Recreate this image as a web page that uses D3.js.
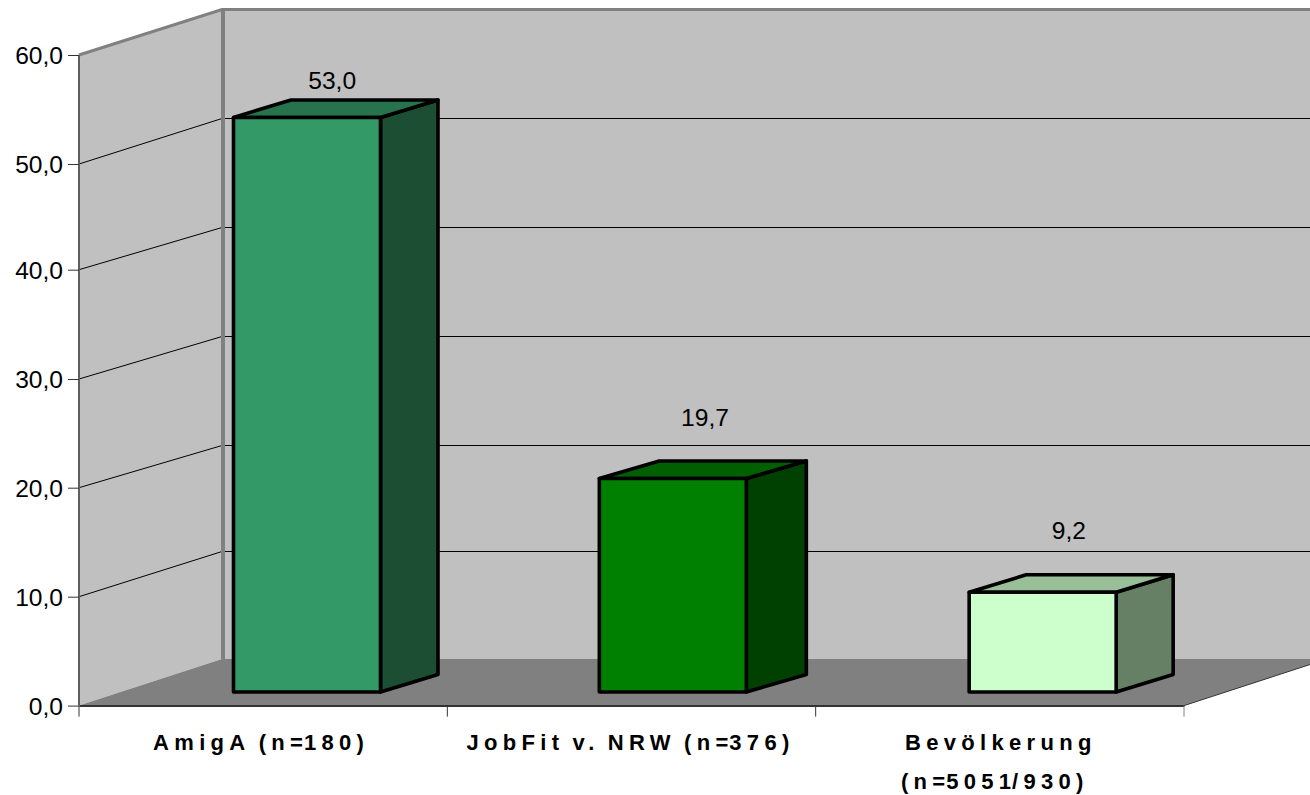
<!DOCTYPE html>
<html lang="de">
<head>
<meta charset="utf-8">
<title>AmigA, JobFit und Bevölkerung</title>
<script src="https://cdn.jsdelivr.net/npm/d3@7/dist/d3.min.js"></script>
<style>
  html, body { margin: 0; padding: 0; background: #fff; overflow: hidden; }
  svg { display: block; }
  text { font-family: "Liberation Sans", Arial, sans-serif; fill: #000; }
</style>
</head>
<body>
<svg id="chart" width="1310" height="795"></svg>
<script>
// Series
const categories = ["AmigA (n=180)", "JobFit v. NRW (n=376)", "Bevölkerung|(n=5051/930)"];
const values = [53.0, 19.7, 9.2];
const tickValues = [0, 10, 20, 30, 40, 50, 60];

// Bar face colours: front, side, top
const frontColours = ["#339966", "#008000", "#ccffcc"];
const sideColours = ["#1c4e33", "#004000", "#668066"];
const topColours = ["#26734d", "#006000", "#99bf99"];

// Layout of the 3D box
const width = 1310, height = 795;
const left = 79, right = 1184;
const depthX = 143;
const floorFrontY = 705.6, floorBackY = 659;
const wallTopY = 9.5;
const barBaseY = 692, barWidth = 147;
const barInset = [154.5, 152, 153.5];
const barDepths = [57.5, 60, 57];
const barDepthY = 17.5;
const valueLabelLift = [11, 35, 36];
const valueLabelShift = [69, 73.5, 69];
const categoryShift = [[-2], [-1], [1, -5]];

const svg = d3.select("#chart");
const decimal = d3.formatLocale({ decimal: ",", thousands: ".", grouping: [3], currency: ["", " €"] }).format(".1f");

// Axis ticks on the front edge and gridline ends on the back wall sit on device pixels
const yFront = d3.scaleLinear().domain(tickValues).range([705.6, 596.7, 487.7, 379, 269.7, 164, 55]);
const yBack = d3.scaleLinear().domain(tickValues).range([659, 551.5, 445.5, 336.5, 227.5, 118.5, 9.5]);
const yBar = d3.scaleLinear().domain([0, 60]).range([0, 650.4]);
const x = d3.scaleBand().domain(categories).range([left, right]);

const poly = pts => "M" + pts.map(p => p.join(",")).join("L") + "Z";

// Walls and floor
svg.append("path").attr("fill", "#c0c0c0")
  .attr("d", poly([[left + depthX, wallTopY], [width, wallTopY], [width, floorBackY], [left + depthX, floorBackY]]));
svg.append("path").attr("fill", "#c0c0c0")
  .attr("d", poly([[left, yFront(60)], [left + depthX, wallTopY], [left + depthX, floorBackY], [left, floorFrontY]]));
svg.append("path").attr("fill", "#808080")
  .attr("d", poly([[left, floorFrontY], [left + depthX, floorBackY], [right + depthX, floorBackY], [right, floorFrontY]]));

// Gridlines across the side wall and the back wall
const grid = svg.append("g").attr("stroke", "#000").attr("stroke-width", 1).attr("fill", "none");
tickValues.filter(v => v > 0 && v < 60).forEach(v => {
  grid.append("path").attr("d", `M${left},${yFront(v)}L${left + depthX},${yBack(v)}L${width},${yBack(v)}`);
});

// Wall outlines
svg.append("path").attr("fill", "none").attr("stroke", "#808080").attr("stroke-width", 3)
  .attr("d", `M${left},${yFront(60)}L${left + depthX},${wallTopY}L${width},${wallTopY}`);
svg.append("line").attr("stroke", "#808080").attr("stroke-width", 4)
  .attr("x1", left + depthX + 1).attr("x2", left + depthX + 1).attr("y1", wallTopY).attr("y2", floorBackY);
svg.append("line").attr("stroke", "#5f5f5f").attr("stroke-width", 2)
  .attr("x1", left).attr("x2", left).attr("y1", yFront(60)).attr("y2", floorFrontY);
svg.append("line").attr("stroke", "#333").attr("stroke-width", 1)
  .attr("x1", right).attr("x2", right + depthX).attr("y1", floorFrontY).attr("y2", floorBackY);

// Y axis
const yAxis = svg.append("g").attr("transform", `translate(${left},1)`)
  .call(d3.axisLeft(yFront).tickValues(tickValues).tickFormat(decimal).tickSize(11).tickPadding(5));
yAxis.select(".domain").remove();
yAxis.selectAll("line").attr("stroke", "#333").attr("transform", "translate(0,-1)");
yAxis.selectAll("text").attr("font-size", 24.6).attr("font-family", "Liberation Sans");

// X axis
const xAxis = svg.append("g").attr("transform", `translate(0,${floorFrontY})`)
  .call(d3.axisBottom(x).tickValues([]).tickSizeOuter(0));
xAxis.select(".domain").attr("stroke", "#333").attr("stroke-width", 2);
const edges = categories.map(c => x(c)).concat(right);
svg.append("g").selectAll("line").data(edges).join("line")
  .attr("x1", d => d).attr("x2", d => d)
  .attr("y1", floorFrontY).attr("y2", floorFrontY + 11)
  .attr("stroke", (d, i) => i === edges.length - 1 ? "#808080" : "#333");

// Bars
const bars = svg.append("g").selectAll("g").data(values).join("g")
  .attr("stroke", "#000").attr("stroke-width", 3.6).attr("stroke-linejoin", "round");
bars.each(function (v, i) {
  const g = d3.select(this);
  const x0 = x(categories[i]) + barInset[i], x1 = x0 + barWidth;
  const yTop = barBaseY - yBar(v);
  const dx = barDepths[i];
  g.append("path").attr("fill", sideColours[i])
    .attr("d", poly([[x1, yTop], [x1 + dx, yTop - barDepthY], [x1 + dx, barBaseY - barDepthY], [x1, barBaseY]]));
  g.append("path").attr("fill", topColours[i])
    .attr("d", poly([[x0, yTop], [x0 + dx, yTop - barDepthY], [x1 + dx, yTop - barDepthY], [x1, yTop]]));
  g.append("path").attr("fill", frontColours[i])
    .attr("d", poly([[x0, yTop], [x1, yTop], [x1, barBaseY], [x0, barBaseY]]));
});

// Value labels
svg.append("g").selectAll("text").data(values).join("text")
  .attr("x", (v, i) => x(categories[i]) + x.bandwidth() / 2 + valueLabelShift[i])
  .attr("y", (v, i) => barBaseY - yBar(v) - barDepthY - valueLabelLift[i])
  .attr("text-anchor", "middle").attr("font-size", 24.6)
  .text(v => decimal(v));

// Category labels: wide tracking, tighter after spaces and equals signs and ahead of a slash
const tracking = (ch, next) => ch === "=" || next === "/" ? 1 : ch === " " ? 2 : 5.3;
const catG = svg.append("g");
categories.forEach((c, i) => {
  c.split("|").forEach((line, j) => {
    const chars = Array.from(line);
    catG.append("text")
      .attr("x", x(c) + x.bandwidth() / 2 + categoryShift[i][j])
      .attr("y", 750 + j * 39)
      .attr("text-anchor", "middle")
      .attr("font-size", 22).attr("font-weight", "bold")
      .attr("xml:space", "preserve").style("white-space", "pre")
      .selectAll("tspan").data(chars).join("tspan")
      .attr("letter-spacing", (ch, k) => tracking(ch, chars[k + 1]))
      .text(ch => ch);
  });
});
</script>
</body>
</html>
